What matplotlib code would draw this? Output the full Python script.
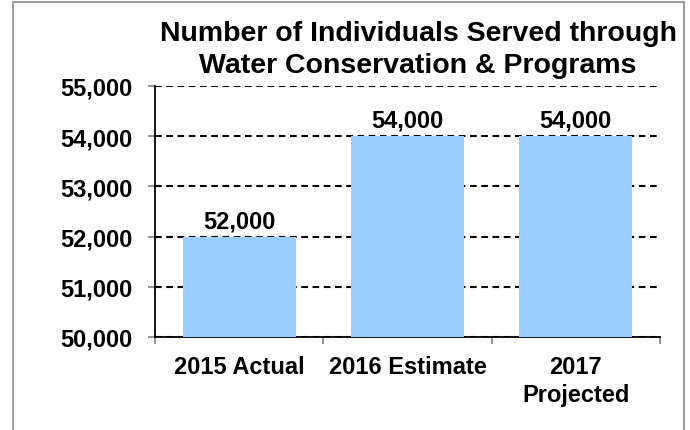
import matplotlib.pyplot as plt
import matplotlib.patches as mpatches

# chart data
categories = ['2015 Actual', '2016 Estimate', '2017\nProjected']
values = [52000, 54000, 54000]
yticks = [50000, 51000, 52000, 53000, 54000, 55000]

plt.rcParams['font.family'] = ['Liberation Sans', 'DejaVu Sans']
plt.rcParams['font.weight'] = 'bold'

fig = plt.figure(figsize=(6.9, 4.31), dpi=100)
ax = fig.add_axes([155 / 690, 1 - 338 / 431, 505 / 690, 251 / 431])

x = range(len(categories))
ax.bar(x, values, width=0.67, color='#99ccff', zorder=3)

for i, v in zip(x, values):
    ax.text(i, v + 90, f'{v:,}', ha='center', va='bottom',
            fontsize=17, fontweight='bold', zorder=4)

ax.set_xlim(-0.5, 2.5)
ax.set_ylim(50000, 55000)
ax.set_yticks(yticks)
ax.set_yticklabels([f'{t:,}' for t in yticks], fontsize=17, fontweight='bold')
ax.yaxis.grid(True, color='black', linestyle=(0, (3.2, 2.2)), linewidth=1.5, zorder=0)

# x ticks at category boundaries, labels in the middle
ax.set_xticks([-0.5, 0.5, 1.5, 2.5])
ax.set_xticklabels([])
ax.set_xticks(list(x), minor=True)
ax.set_xticklabels(categories, minor=True, fontsize=17, fontweight='bold', linespacing=1.25)
ax.tick_params(axis='x', which='minor', length=0, pad=13)
ax.tick_params(axis='x', which='major', length=5, color='#808080', width=1.2)
ax.tick_params(axis='y', length=5, color='#808080', width=1.2, pad=11)

for s in ['top', 'right']:
    ax.spines[s].set_visible(False)
for s in ['left', 'bottom']:
    ax.spines[s].set_linewidth(1.3)
    ax.spines[s].set_color('black')

fig.text(418 / 690, 1 - 50 / 431, 'Number of Individuals Served through\nWater Conservation & Programs',
         ha='center', va='center', fontsize=20.5, fontweight='bold', linespacing=1.3)

# outer chart border
fig.patches.append(mpatches.Rectangle((13 / 690, -0.1), 671 / 690, 1.1 - 3 / 431,
                                      transform=fig.transFigure, fill=False,
                                      edgecolor='#a0a0a0', linewidth=1.5))

fig.savefig('out.png', dpi=100)
